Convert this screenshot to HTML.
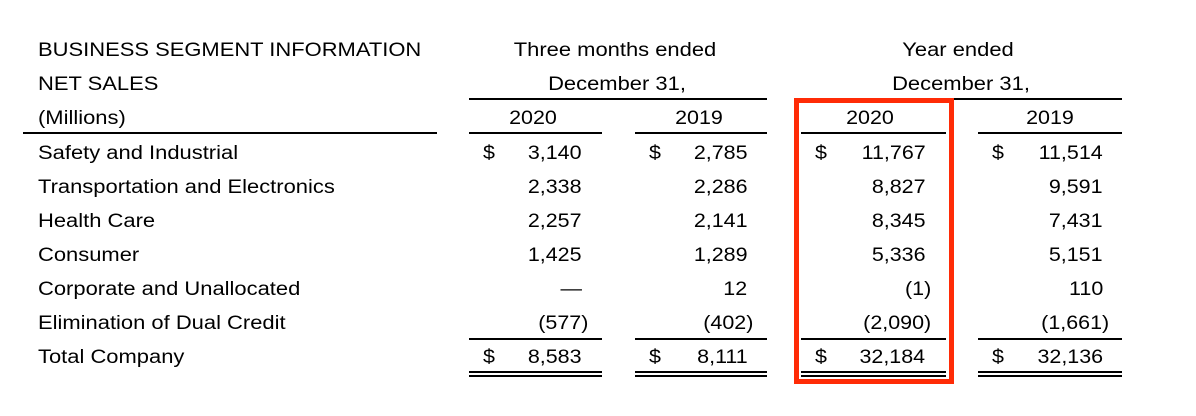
<!DOCTYPE html>
<html>
<head>
<meta charset="utf-8">
<style>
  html, body { margin:0; padding:0; background:#fff; }
  #c { position:relative; width:1196px; height:416px; overflow:hidden; background:#fff; }
  .t { position:absolute; font-family:"Liberation Sans", Arial, sans-serif; font-size:19px; line-height:19px; color:#000; white-space:nowrap; }
  .l { transform:scaleX(1.13); transform-origin:left center; }
  .lw { transform:scaleX(1.155); transform-origin:left center; }
  .r { transform:scaleX(1.13); transform-origin:right center; }
  .m { transform:translateX(-50%) scaleX(1.13); }
  .mw { transform:translateX(-50%) scaleX(1.155); }
  .ln { position:absolute; background:#000; height:2px; }
  #box { position:absolute; left:794px; top:98px; width:160px; height:286px; box-sizing:border-box; border:5px solid #ff2b06; }
</style>
</head>
<body>
<div id="c">
  <!-- header labels -->
  <div class="t lw" style="left:38px; top:41px;">BUSINESS SEGMENT INFORMATION</div>
  <div class="t lw" style="left:38px; top:75px;">NET SALES</div>
  <div class="t lw" style="left:38px; top:109px;">(Millions)</div>

  <div class="t mw" style="left:615px; top:41px;">Three months ended</div>
  <div class="t mw" style="left:617px; top:75px;">December 31,</div>
  <div class="t mw" style="left:958px; top:41px;">Year ended</div>
  <div class="t mw" style="left:961px; top:75px;">December 31,</div>

  <div class="t m" style="left:533px; top:109px;">2020</div>
  <div class="t m" style="left:699px; top:109px;">2019</div>
  <div class="t m" style="left:870px; top:109px;">2020</div>
  <div class="t m" style="left:1050px; top:109px;">2019</div>

  <!-- lines -->
  <div class="ln" style="left:469px; top:98px; width:298px;"></div>
  <div class="ln" style="left:795px; top:98px; width:327px;"></div>
  <div class="ln" style="left:23px; top:132px; width:414px;"></div>
  <div class="ln" style="left:469px; top:132px; width:133px;"></div>
  <div class="ln" style="left:635px; top:132px; width:132px;"></div>
  <div class="ln" style="left:801px; top:132px; width:145px;"></div>
  <div class="ln" style="left:978px; top:132px; width:144px;"></div>

  <div class="ln" style="left:469px; top:338px; width:133px;"></div>
  <div class="ln" style="left:635px; top:338px; width:132px;"></div>
  <div class="ln" style="left:801px; top:338px; width:145px;"></div>
  <div class="ln" style="left:978px; top:338px; width:144px;"></div>

  <div class="ln" style="left:469px; top:371px; width:133px;"></div>
  <div class="ln" style="left:635px; top:371px; width:132px;"></div>
  <div class="ln" style="left:801px; top:371px; width:145px;"></div>
  <div class="ln" style="left:978px; top:371px; width:144px;"></div>
  <div class="ln" style="left:469px; top:375px; width:133px;"></div>
  <div class="ln" style="left:635px; top:375px; width:132px;"></div>
  <div class="ln" style="left:801px; top:375px; width:145px;"></div>
  <div class="ln" style="left:978px; top:375px; width:144px;"></div>

  <!-- row labels -->
  <div class="t lw" style="left:38px; top:143.5px;">Safety and Industrial</div>
  <div class="t lw" style="left:38px; top:177.5px;">Transportation and Electronics</div>
  <div class="t lw" style="left:38px; top:211.5px;">Health Care</div>
  <div class="t lw" style="left:38px; top:245.5px;">Consumer</div>
  <div class="t lw" style="left:38px; top:279.5px;">Corporate and Unallocated</div>
  <div class="t lw" style="left:38px; top:313.5px;">Elimination of Dual Credit</div>
  <div class="t lw" style="left:38px; top:348px;">Total Company</div>

  <!-- dollar signs -->
  <div class="t l" style="left:483px; top:143.5px;">$</div>
  <div class="t l" style="left:649px; top:143.5px;">$</div>
  <div class="t l" style="left:815px; top:143.5px;">$</div>
  <div class="t l" style="left:992px; top:143.5px;">$</div>
  <div class="t l" style="left:483px; top:348px;">$</div>
  <div class="t l" style="left:649px; top:348px;">$</div>
  <div class="t l" style="left:815px; top:348px;">$</div>
  <div class="t l" style="left:992px; top:348px;">$</div>

  <!-- col1 right edge 582 -->
  <div class="t r" style="right:614px; top:143.5px;">3,140</div>
  <div class="t r" style="right:614px; top:177.5px;">2,338</div>
  <div class="t r" style="right:614px; top:211.5px;">2,257</div>
  <div class="t r" style="right:614px; top:245.5px;">1,425</div>
  <div class="t r" style="right:614px; top:279.5px;">—</div>
  <div class="t r" style="right:608px; top:313.5px;">(577)</div>
  <div class="t r" style="right:614px; top:348px;">8,583</div>

  <!-- col2 right edge 747.5 -->
  <div class="t r" style="right:448.5px; top:143.5px;">2,785</div>
  <div class="t r" style="right:448.5px; top:177.5px;">2,286</div>
  <div class="t r" style="right:448.5px; top:211.5px;">2,141</div>
  <div class="t r" style="right:448.5px; top:245.5px;">1,289</div>
  <div class="t r" style="right:448.5px; top:279.5px;">12</div>
  <div class="t r" style="right:442.5px; top:313.5px;">(402)</div>
  <div class="t r" style="right:448.5px; top:348px;">8,111</div>

  <!-- col3 right edge 925.5 -->
  <div class="t r" style="right:270.5px; top:143.5px;">11,767</div>
  <div class="t r" style="right:270.5px; top:177.5px;">8,827</div>
  <div class="t r" style="right:270.5px; top:211.5px;">8,345</div>
  <div class="t r" style="right:270.5px; top:245.5px;">5,336</div>
  <div class="t r" style="right:264.5px; top:279.5px;">(1)</div>
  <div class="t r" style="right:264.5px; top:313.5px;">(2,090)</div>
  <div class="t r" style="right:270.5px; top:348px;">32,184</div>

  <!-- col4 right edge 1103 -->
  <div class="t r" style="right:93px; top:143.5px;">11,514</div>
  <div class="t r" style="right:93px; top:177.5px;">9,591</div>
  <div class="t r" style="right:93px; top:211.5px;">7,431</div>
  <div class="t r" style="right:93px; top:245.5px;">5,151</div>
  <div class="t r" style="right:93px; top:279.5px;">110</div>
  <div class="t r" style="right:87px; top:313.5px;">(1,661)</div>
  <div class="t r" style="right:93px; top:348px;">32,136</div>

  <div id="box"></div>
</div>
</body>
</html>
